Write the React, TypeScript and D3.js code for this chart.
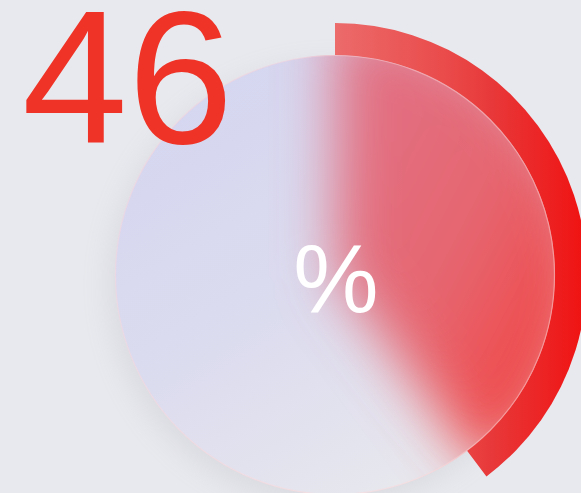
import React from 'react';
import * as d3 from 'd3';

// gauge reading and the scale it sits on
const value = 46;
const scaleDomain = [0, 100];
const sweepDegrees = 311; // full-scale sweep of the ring, clockwise from 12 o'clock
const valueLabel = String(value);
const unitLabel = '%';

const W = 581;
const H = 493;

const App: React.FC = () => {
  const cx = 335;
  const cy = 275;
  const ringOuter = 252;
  const glassR = 220;

  const angle = d3.scaleLinear()
    .domain(scaleDomain)
    .range([0, (sweepDegrees * Math.PI) / 180]);

  const wedge = d3.arc<any>()
    .innerRadius(0)
    .outerRadius(ringOuter)
    .startAngle(angle(0))
    .endAngle(angle(value));

  const wedgePath = wedge({}) as string;

  // gradients are in the ring group's own (centred) coordinates
  return (
    <svg
      width={W}
      height={H}
      style={{ position: 'absolute', left: 0, top: 0, display: 'block' }}
    >
      <defs>
        <linearGradient id="ringGrad" gradientUnits="userSpaceOnUse" x1={0} y1={0} x2={250} y2={0}>
          <stop offset="0%" stopColor="#ec6b6b" />
          <stop offset="45%" stopColor="#ea4a4a" />
          <stop offset="62%" stopColor="#e8393a" />
          <stop offset="100%" stopColor="#f01212" />
        </linearGradient>
        <linearGradient id="glassGrad" x1="0" y1="0" x2="0.6" y2="1">
          <stop offset="0%" stopColor="#d3d4f0" />
          <stop offset="60%" stopColor="#dcdcef" />
          <stop offset="100%" stopColor="#e7e7ee" />
        </linearGradient>
        <linearGradient id="glassRed" gradientUnits="userSpaceOnUse" x1={0} y1={-100} x2={230} y2={20}>
          <stop offset="0%" stopColor="#e26a7c" />
          <stop offset="55%" stopColor="#e6606a" />
          <stop offset="100%" stopColor="#ef4242" />
        </linearGradient>
        <clipPath id="glassClip">
          <circle cx={cx} cy={cy} r={glassR} />
        </clipPath>
        <filter id="frost" x="-40%" y="-40%" width="180%" height="180%">
          <feGaussianBlur stdDeviation="28" />
        </filter>
        <filter id="shadow" x="-30%" y="-30%" width="160%" height="160%">
          <feGaussianBlur stdDeviation="14" />
        </filter>
      </defs>

      <rect width={W} height={H} fill="#e8e9ee" />

      {/* soft drop shadow under the glass disc */}
      <circle cx={cx - 6} cy={cy + 10} r={glassR} fill="#9a9aa8" opacity={0.18} filter="url(#shadow)" />

      {/* value ring */}
      <g transform={`translate(${cx},${cy})`}>
        <path d={wedgePath} fill="url(#ringGrad)" />
      </g>

      {/* frosted glass disc */}
      <g clipPath="url(#glassClip)">
        <circle cx={cx} cy={cy} r={glassR} fill="url(#glassGrad)" />
        <g transform={`translate(${cx},${cy})`} filter="url(#frost)">
          <path d={wedgePath} fill="url(#glassRed)" opacity={0.95} />
        </g>
      </g>
      <circle cx={cx} cy={cy} r={glassR - 0.5} fill="none" stroke="#ffd6d6" strokeOpacity={0.45} strokeWidth={1.2} />

      <text
        x={22}
        y={143}
        fill="#ef3427"
        fontFamily="'Liberation Sans', Arial, sans-serif"
        fontSize={190}
      >
        {valueLabel}
      </text>

      <text
        x={cx + 1}
        y={312}
        textAnchor="middle"
        fill="#ffffff"
        fontFamily="'Liberation Sans', Arial, sans-serif"
        fontSize={96}
      >
        {unitLabel}
      </text>
    </svg>
  );
};

export default App;
